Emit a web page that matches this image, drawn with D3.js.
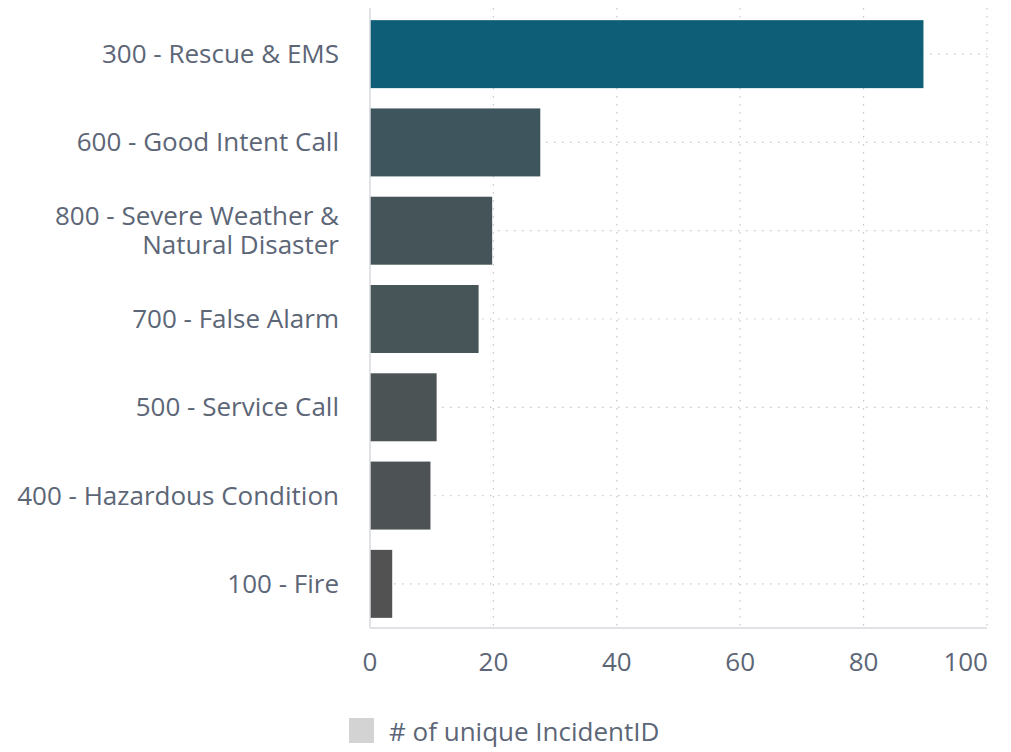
<!DOCTYPE html>
<html>
<head>
<meta charset="utf-8">
<script src="https://cdn.jsdelivr.net/npm/d3@7"></script>
<style>
  body { margin: 0; background: #fff; }
  text { font-family: "Open Sans", sans-serif; fill: #5c6677; }
</style>
</head>
<body>
<svg id="chart"></svg>
<script>
// categories, top to bottom
let categories = [
    ["300 - Rescue & EMS"],
    ["600 - Good Intent Call"],
    ["800 - Severe Weather &", "Natural Disaster"],
    ["700 - False Alarm"],
    ["500 - Service Call"],
    ["400 - Hazardous Condition"],
    ["100 - Fire"]
];
let counts = [89.7, 27.6, 19.8, 17.6, 10.8, 9.8, 3.6];
let xTicks = [0, 20, 40, 60, 80, 100];
let legendLabel = "# of unique IncidentID";

let svgW = 1011, svgH = 752;
let margin = { top: 10, right: 24, bottom: 124, left: 370 };

let data = categories.map(function (c, i) {
    return { key: c.join(" "), lines: c, value: counts[i] };
});

let svg = d3.select("#chart")
    .attr("width", svgW)
    .attr("height", svgH);

let xScale = d3.scaleLinear()
    .domain([0, 100])
    .range([margin.left, svgW - margin.right]);

let yScale = d3.scaleBand()
    .domain(data.map(function (d) { return d.key; }))
    .range([margin.top, svgH - margin.bottom])
    .paddingInner(0.23)
    .paddingOuter(0.115);

let color = d3.scaleLinear()
    .domain([d3.min(counts), d3.max(counts)])
    .range(["#525252", "#0f5e78"]);

let plotTop = margin.top - 2, plotBottom = svgH - margin.bottom;

// vertical dotted grid
svg.append("g")
    .selectAll("line")
    .data(xTicks.slice(1))
    .enter()
    .append("line")
    .attr("x1", function (d) { return xScale(d); })
    .attr("x2", function (d) { return xScale(d); })
    .attr("y1", plotTop)
    .attr("y2", plotBottom)
    .attr("stroke", "#c4c7cc")
    .attr("stroke-width", 1.2)
    .attr("stroke-dasharray", "1.5,6.5");

// horizontal dotted grid at band centres
svg.append("g")
    .selectAll("line")
    .data(data)
    .enter()
    .append("line")
    .attr("x1", xScale(0))
    .attr("x2", xScale(100))
    .attr("y1", function (d) { return yScale(d.key) + yScale.bandwidth() / 2; })
    .attr("y2", function (d) { return yScale(d.key) + yScale.bandwidth() / 2; })
    .attr("stroke", "#c4c7cc")
    .attr("stroke-width", 1.2)
    .attr("stroke-dasharray", "1.5,6.5");

// bars
svg.append("g")
    .selectAll("rect")
    .data(data)
    .enter()
    .append("rect")
    .attr("x", xScale(0))
    .attr("y", function (d) { return yScale(d.key); })
    .attr("width", function (d) { return xScale(d.value) - xScale(0); })
    .attr("height", yScale.bandwidth())
    .attr("fill", function (d) { return color(d.value); });

// axis lines
svg.append("line")
    .attr("x1", xScale(0)).attr("x2", xScale(0))
    .attr("y1", plotTop).attr("y2", plotBottom)
    .attr("stroke", "#d6d9dd").attr("stroke-width", 1.5);
svg.append("line")
    .attr("x1", xScale(0)).attr("x2", xScale(100))
    .attr("y1", plotBottom).attr("y2", plotBottom)
    .attr("stroke", "#d6d9dd").attr("stroke-width", 1.5);

// x tick labels
svg.append("g")
    .selectAll("text")
    .data(xTicks)
    .enter()
    .append("text")
    .attr("x", function (d, i) { return i == xTicks.length - 1 ? xScale(d) + 1 : xScale(d); })
    .attr("y", plotBottom + 43)
    .attr("text-anchor", function (d, i) { return i == xTicks.length - 1 ? "end" : "middle"; })
    .style("font-size", "26px")
    .text(function (d) { return d; });

// category labels
let labels = svg.append("g")
    .selectAll("text")
    .data(data)
    .enter()
    .append("text")
    .attr("text-anchor", "end")
    .style("font-size", "26px")
    .attr("transform", function (d) {
        return "translate(" + (xScale(0) - 31) + "," + (yScale(d.key) + yScale.bandwidth() / 2) + ")";
    });

labels.selectAll("tspan")
    .data(function (d) {
        return d.lines.map(function (l, i) { return { text: l, i: i, n: d.lines.length }; });
    })
    .enter()
    .append("tspan")
    .attr("x", 0)
    .attr("y", function (t) { return (t.i - (t.n - 1) / 2) * 29 + 9; })
    .text(function (t) { return t.text; });

// legend
svg.append("rect")
    .attr("x", 349).attr("y", 718)
    .attr("width", 25).attr("height", 25)
    .attr("fill", "#d3d3d3");
svg.append("text")
    .attr("x", 389).attr("y", 741)
    .style("font-size", "26px")
    .text(legendLabel);
</script>
</body>
</html>
